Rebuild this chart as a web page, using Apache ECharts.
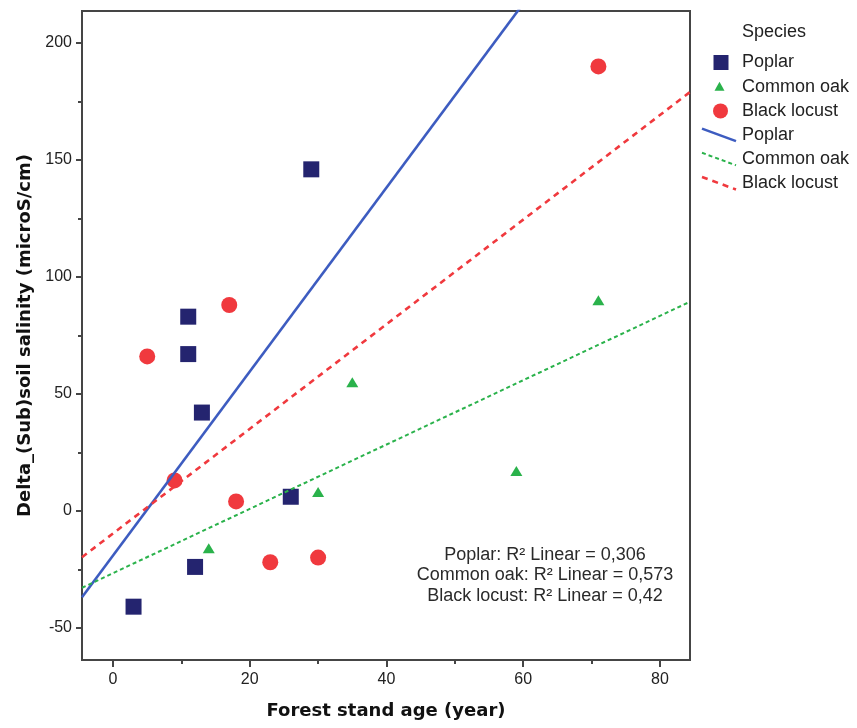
<!DOCTYPE html>
<html>
<head>
<meta charset="utf-8">
<script src="https://cdn.jsdelivr.net/npm/echarts@6/dist/echarts.min.js"></script>
<style>
  html, body { margin: 0; padding: 0; background: #ffffff; }
  #chart { width: 857px; height: 728px; }
</style>
</head>
<body>
<div id="chart"></div>
<script>
// Forest stand age (years) vs. change in (sub)soil salinity (microS/cm), per species
const speciesNames = ['Poplar', 'Common oak', 'Black locust'];

const poplarAge = [3, 11, 11, 13, 29, 26, 12];
const poplarSalinity = [-41, 83, 67, 42, 146, 6, -24];

const oakAge = [14, 30, 35, 59, 71];
const oakSalinity = [-16, 8, 55, 17, 90];

const locustAge = [5, 9, 17, 18, 23, 30, 71];
const locustSalinity = [66, 13, 88, 4, -22, -20, 190];

// Goodness of fit reported for each linear fit
const r2Labels = ['0,306', '0,573', '0,42'];

// Axis ticks
const xMajorTicks = [0, 20, 40, 60, 80];
const xMinorTicks = [10, 30, 50, 70];
const yMajorTicks = [-50, 0, 50, 100, 150, 200];
const yMinorTicks = [-25, 25, 75, 125, 175];

// Axis extents
const X_MIN = -4.54, X_MAX = 84.4;
const Y_MIN = -63.8, Y_MAX = 213.7;

// Colours and marker styles per species
const markerColors = ['#24246f', '#2ab24b', '#f0393e'];
const lineColors = ['#3d5cc0', '#2ab24b', '#f0393e'];
const markerSymbols = ['rect', 'triangle', 'circle'];
const markerSizes = [16, [12, 10], 16];
const lineDash = ['solid', [4, 3], [6, 5]];
const lineWidths = [2.6, 2, 2.6];

const AXIS_COLOR = '#454545';
const TEXT_COLOR = '#222222';
const BASE_FONT = '"Liberation Sans", Arial, sans-serif';
const TITLE_FONT = '"DejaVu Sans", Verdana, sans-serif';

function zip(xs, ys) { return xs.map((x, i) => [x, ys[i]]); }

// Ordinary least-squares line through the points
function linearFit(xs, ys) {
  const n = xs.length;
  const mx = xs.reduce((a, b) => a + b, 0) / n;
  const my = ys.reduce((a, b) => a + b, 0) / n;
  let sxy = 0, sxx = 0;
  for (let i = 0; i < n; i++) {
    sxy += (xs[i] - mx) * (ys[i] - my);
    sxx += (xs[i] - mx) * (xs[i] - mx);
  }
  const slope = sxy / sxx;
  const intercept = my - slope * mx;
  return [[X_MIN, intercept + slope * X_MIN], [X_MAX, intercept + slope * X_MAX]];
}

const ages = [poplarAge, oakAge, locustAge];
const salinities = [poplarSalinity, oakSalinity, locustSalinity];

const scatterSeries = speciesNames.map((name, i) => ({
  name: name,
  type: 'scatter',
  xAxisIndex: 0,
  yAxisIndex: 0,
  symbol: markerSymbols[i],
  symbolSize: markerSizes[i],
  itemStyle: { color: markerColors[i], opacity: 1 },
  data: zip(ages[i], salinities[i]),
  z: 2,
  silent: true
}));

const fitSeries = speciesNames.map((name, i) => ({
  name: name + ' fit',
  type: 'line',
  xAxisIndex: 0,
  yAxisIndex: 0,
  showSymbol: false,
  symbol: 'none',
  clip: true,
  lineStyle: { color: lineColors[i], width: lineWidths[i], type: lineDash[i], cap: 'butt' },
  data: linearFit(ages[i], salinities[i]),
  z: 3,
  silent: true
}));

// Legend drawn at the right of the plot: markers, then fit lines
const legendX = 742;
const legendRow0 = 62.5;
const legendStep = 24.2;
const legendGraphics = [{
  type: 'text',
  x: legendX, y: 32,
  style: { text: 'Species', font: '18px ' + BASE_FONT, fill: TEXT_COLOR, verticalAlign: 'middle' }
}];
speciesNames.forEach((name, i) => {
  const cy = legendRow0 + legendStep * i;
  if (markerSymbols[i] === 'rect') {
    legendGraphics.push({ type: 'rect', shape: { x: 713.5, y: cy - 7.5, width: 15, height: 15 }, style: { fill: markerColors[i] } });
  } else if (markerSymbols[i] === 'triangle') {
    legendGraphics.push({ type: 'polygon', shape: { points: [[719.5, cy - 5], [714.5, cy + 4], [724.5, cy + 4]] }, style: { fill: markerColors[i] } });
  } else {
    legendGraphics.push({ type: 'circle', shape: { cx: 720.5, cy: cy, r: 7.5 }, style: { fill: markerColors[i] } });
  }
  legendGraphics.push({
    type: 'text', x: legendX, y: cy,
    style: { text: name, font: '18px ' + BASE_FONT, fill: TEXT_COLOR, verticalAlign: 'middle' }
  });
});
speciesNames.forEach((name, i) => {
  const cy = legendRow0 + legendStep * (i + 3);
  legendGraphics.push({
    type: 'line',
    shape: { x1: 702, y1: cy - 6.5, x2: 736, y2: cy + 6 },
    style: {
      stroke: lineColors[i],
      lineWidth: lineWidths[i],
      lineDash: lineDash[i] === 'solid' ? null : lineDash[i]
    }
  });
  legendGraphics.push({
    type: 'text', x: legendX, y: cy,
    style: { text: name, font: '18px ' + BASE_FONT, fill: TEXT_COLOR, verticalAlign: 'middle' }
  });
});

// Fit statistics inside the plot
const statsText = speciesNames.map((name, i) => name + ': R² Linear = ' + r2Labels[i]).join('\n');
const statsGraphic = {
  type: 'text',
  x: 545, y: 575.5,
  style: {
    text: statsText,
    font: '18px ' + BASE_FONT,
    fill: '#2a2a2a',
    align: 'center',
    verticalAlign: 'middle',
    lineHeight: 20.3
  },
  z: 10
};

function majorAxisCommon() {
  return {
    axisLine: { show: true, onZero: false, lineStyle: { color: AXIS_COLOR, width: 2 } },
    splitLine: { show: false },
    minorTick: { show: false }
  };
}

const option = {
  backgroundColor: '#ffffff',
  animation: false,
  grid: {
    left: 82, top: 11, right: 167, bottom: 68,
    show: true, borderColor: AXIS_COLOR, borderWidth: 2, backgroundColor: 'transparent'
  },
  xAxis: [
    Object.assign(majorAxisCommon(), {
      type: 'value', min: X_MIN, max: X_MAX, position: 'bottom',
      axisTick: { show: true, customValues: xMajorTicks, length: 7, lineStyle: { color: AXIS_COLOR, width: 2 } },
      axisLabel: { customValues: xMajorTicks, margin: 12, fontSize: 16, color: TEXT_COLOR, fontFamily: BASE_FONT },
      name: 'Forest stand age (year)',
      nameLocation: 'middle',
      nameGap: 42,
      nameTextStyle: { fontFamily: TITLE_FONT, fontWeight: 'bold', fontSize: 18, color: '#111111' }
    }),
    {
      type: 'value', min: X_MIN, max: X_MAX, position: 'bottom',
      axisLine: { show: false, onZero: false },
      axisTick: { show: true, customValues: xMinorTicks, length: 4, lineStyle: { color: AXIS_COLOR, width: 2 } },
      axisLabel: { show: false },
      splitLine: { show: false }
    }
  ],
  yAxis: [
    Object.assign(majorAxisCommon(), {
      type: 'value', min: Y_MIN, max: Y_MAX, position: 'left',
      axisTick: { show: true, customValues: yMajorTicks, length: 6, lineStyle: { color: AXIS_COLOR, width: 2 } },
      axisLabel: { customValues: yMajorTicks, margin: 10, fontSize: 16, color: TEXT_COLOR, fontFamily: BASE_FONT },
      name: 'Delta_(Sub)soil salinity (microS/cm)',
      nameLocation: 'middle',
      nameGap: 47,
      nameTextStyle: { fontFamily: TITLE_FONT, fontWeight: 'bold', fontSize: 18, color: '#111111' }
    }),
    {
      type: 'value', min: Y_MIN, max: Y_MAX, position: 'left',
      axisLine: { show: false, onZero: false },
      axisTick: { show: true, customValues: yMinorTicks, length: 4, lineStyle: { color: AXIS_COLOR, width: 2 } },
      axisLabel: { show: false },
      splitLine: { show: false }
    }
  ],
  series: scatterSeries.concat(fitSeries),
  graphic: legendGraphics.concat([statsGraphic])
};

const chart = echarts.init(document.getElementById('chart'), null, { renderer: 'canvas' });
chart.setOption(option);
</script>
</body>
</html>
